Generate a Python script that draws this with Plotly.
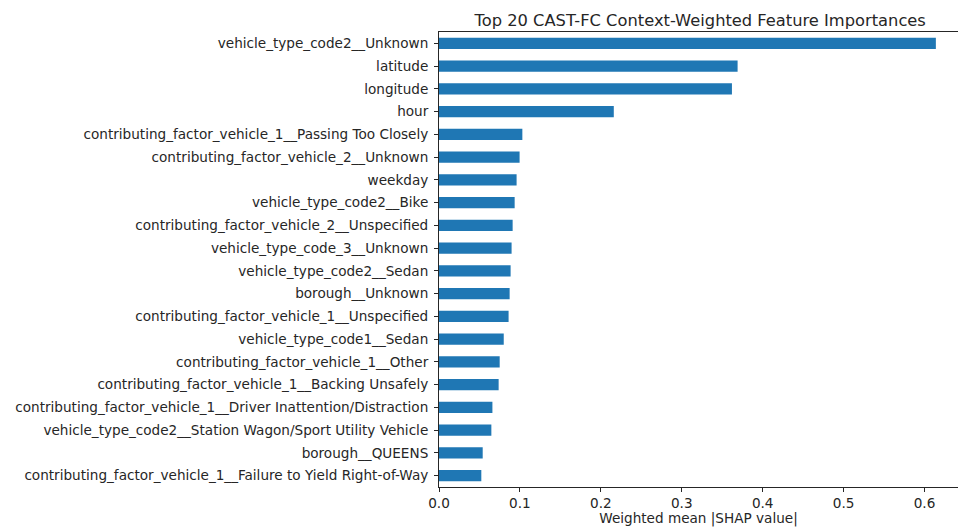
import plotly.graph_objects as go

# Feature names, most important first
features = [
    "vehicle_type_code2__Unknown",
    "latitude",
    "longitude",
    "hour",
    "contributing_factor_vehicle_1__Passing Too Closely",
    "contributing_factor_vehicle_2__Unknown",
    "weekday",
    "vehicle_type_code2__Bike",
    "contributing_factor_vehicle_2__Unspecified",
    "vehicle_type_code_3__Unknown",
    "vehicle_type_code2__Sedan",
    "borough__Unknown",
    "contributing_factor_vehicle_1__Unspecified",
    "vehicle_type_code1__Sedan",
    "contributing_factor_vehicle_1__Other",
    "contributing_factor_vehicle_1__Backing Unsafely",
    "contributing_factor_vehicle_1__Driver Inattention/Distraction",
    "vehicle_type_code2__Station Wagon/Sport Utility Vehicle",
    "borough__QUEENS",
    "contributing_factor_vehicle_1__Failure to Yield Right-of-Way",
]

# Weighted mean |SHAP value| per feature
importances = [
    0.614, 0.369, 0.362, 0.216, 0.103, 0.0996, 0.0959, 0.0935, 0.0910, 0.0897,
    0.0885, 0.0873, 0.0860, 0.0800, 0.0750, 0.0737, 0.0660, 0.0647, 0.0540, 0.0523,
]

x_ticks = [0.0, 0.1, 0.2, 0.3, 0.4, 0.5, 0.6]

W, H = 958, 527
ML, MT, MB, MR = 438.5, 31.5, 40, 0
FONT = "DejaVu Sans, Verdana, sans-serif"
INK = "#262626"

fig = go.Figure(
    go.Bar(
        x=importances,
        y=list(range(len(features))),
        orientation="h",
        width=0.5,
        marker=dict(color="#1f77b4", line=dict(width=0)),
        hoverinfo="x+text",
        text=features,
        textposition="none",
    )
)

# 810 px per unit on the value axis; the axis runs off the right edge
x_max = (W - ML - MR) / 810.0
title_center = 0.6455 / 2 / x_max  # centre of the full (0 .. 0.6455) axis

fig.update_layout(
    width=W,
    height=H,
    margin=dict(l=ML, r=MR, t=MT, b=MB, pad=0, autoexpand=False),
    paper_bgcolor="white",
    plot_bgcolor="white",
    showlegend=False,
    font=dict(family=FONT, size=13.6, color=INK),
    title=dict(
        text="Top 20 CAST-FC Context-Weighted Feature Importances",
        x=title_center,
        xref="paper",
        xanchor="center",
        y=1.0,
        yref="paper",
        yanchor="bottom",
        pad=dict(b=6),
        font=dict(family=FONT, size=16.3, color=INK),
    ),
    xaxis=dict(
        range=[0, x_max],
        tickvals=x_ticks,
        ticktext=[f"{v:.1f}" for v in x_ticks],
        tickangle=0,
        ticks="outside",
        ticklen=4,
        tickwidth=1,
        tickcolor=INK,
        showgrid=False,
        zeroline=False,
        showline=True,
        linecolor=INK,
        linewidth=1,
        mirror=True,
        automargin=False,
        title=dict(text="Weighted mean |SHAP value|", standoff=2,
                   font=dict(family=FONT, size=13.6, color=INK)),
        tickfont=dict(family=FONT, size=13.6, color=INK),
        fixedrange=True,
    ),
    yaxis=dict(
        range=[len(features) - 0.5, -0.5],
        tickvals=list(range(len(features))),
        ticktext=features,
        ticks="outside",
        ticklen=4,
        tickwidth=1,
        tickcolor=INK,
        ticklabelstandoff=3,
        showgrid=False,
        zeroline=False,
        showline=True,
        linecolor=INK,
        linewidth=1,
        mirror=False,
        automargin=False,
        tickfont=dict(family=FONT, size=13.6, color=INK),
        fixedrange=True,
    ),
)

fig.write_html("out.html")
